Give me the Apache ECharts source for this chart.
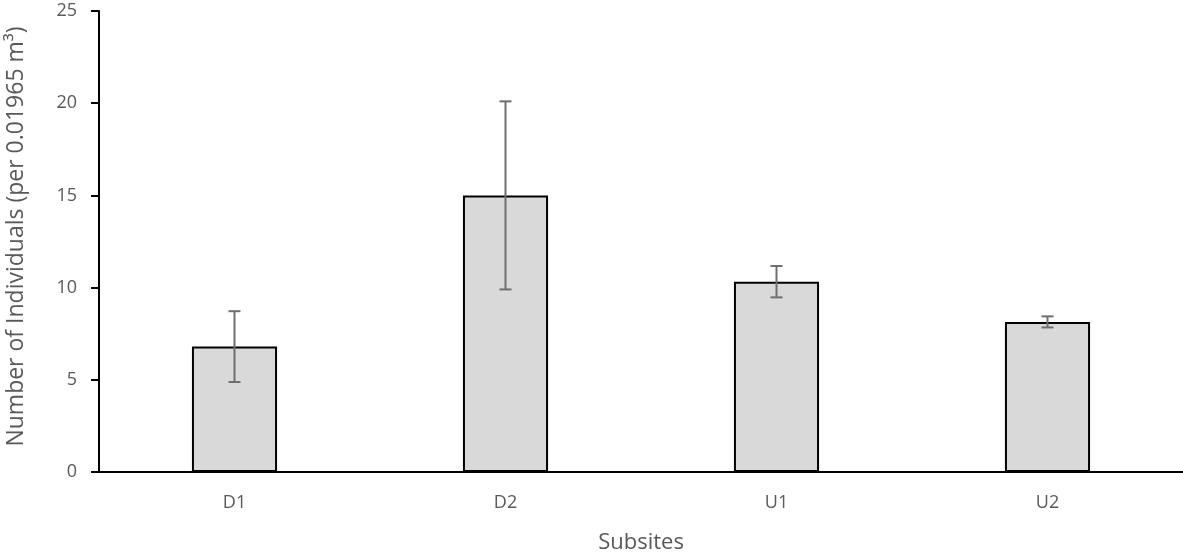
<!DOCTYPE html>
<html>
<head>
<meta charset="utf-8">
<script src="https://cdn.jsdelivr.net/npm/echarts@6/dist/echarts.min.js"></script>
<style>
  html, body { margin: 0; padding: 0; background: #fff; }
  #chart { width: 1183px; height: 556px; }
</style>
</head>
<body>
<div id="chart"></div>
<script>
// 分类、均值与误差
var categories = ['D1', 'D2', 'U1', 'U2'];
var means = [6.8, 15.0, 10.32, 8.14];
var errors = [1.92, 5.1, 0.85, 0.3];
var yTicks = [0, 5, 10, 15, 20, 25];

var errData = categories.map(function (c, i) {
  return [i, means[i] - errors[i], means[i] + errors[i]];
});

var font = "'Open Sans', sans-serif";
var chart = echarts.init(document.getElementById('chart'));

var option = {
  animation: false,
  textStyle: { fontFamily: font },
  grid: { left: 99, right: 0, top: 11, bottom: 84, outerBoundsMode: 'none' },
  xAxis: {
    type: 'category',
    data: categories,
    name: 'Subsites',
    nameLocation: 'middle',
    nameGap: 60,
    nameTextStyle: { color: '#595959', fontSize: 22, fontFamily: font },
    axisLine: { lineStyle: { color: '#000', width: 2 } },
    axisTick: { show: false },
    axisLabel: { color: '#595959', fontSize: 18, margin: 22, fontFamily: font }
  },
  yAxis: {
    type: 'value',
    min: yTicks[0],
    max: yTicks[yTicks.length - 1],
    interval: 5,
    name: 'Number of Individuals (per 0.01965 m³)',
    nameLocation: 'middle',
    nameGap: 71,
    nameTextStyle: { color: '#595959', fontSize: 23, fontFamily: font, padding: [0, 0, 0, 10] },
    axisLine: { show: true, lineStyle: { color: '#000', width: 2 } },
    axisTick: { show: true, length: 8, lineStyle: { color: '#000', width: 2 } },
    axisLabel: { color: '#595959', fontSize: 18, margin: 22, fontFamily: font },
    splitLine: { show: false }
  },
  series: [
    {
      type: 'bar',
      data: means,
      barWidth: '31.4%',
      itemStyle: { color: '#d9d9d9', borderColor: '#000', borderWidth: 2 }
    },
    {
      type: 'custom',
      data: errData,
      z: 10,
      renderItem: function (params, api) {
        var x = api.value(0);
        var lo = api.coord([x, api.value(1)]);
        var hi = api.coord([x, api.value(2)]);
        var w = 6;
        var style = { stroke: '#6f6f6f', lineWidth: 2 };
        return {
          type: 'group',
          children: [
            { type: 'line', shape: { x1: hi[0], y1: hi[1], x2: lo[0], y2: lo[1] }, style: style },
            { type: 'line', shape: { x1: hi[0] - w, y1: hi[1], x2: hi[0] + w, y2: hi[1] }, style: style },
            { type: 'line', shape: { x1: lo[0] - w, y1: lo[1], x2: lo[0] + w, y2: lo[1] }, style: style }
          ]
        };
      }
    }
  ]
};

chart.setOption(option);
window.addEventListener('resize', function () { chart.resize(); });
</script>
</body>
</html>
